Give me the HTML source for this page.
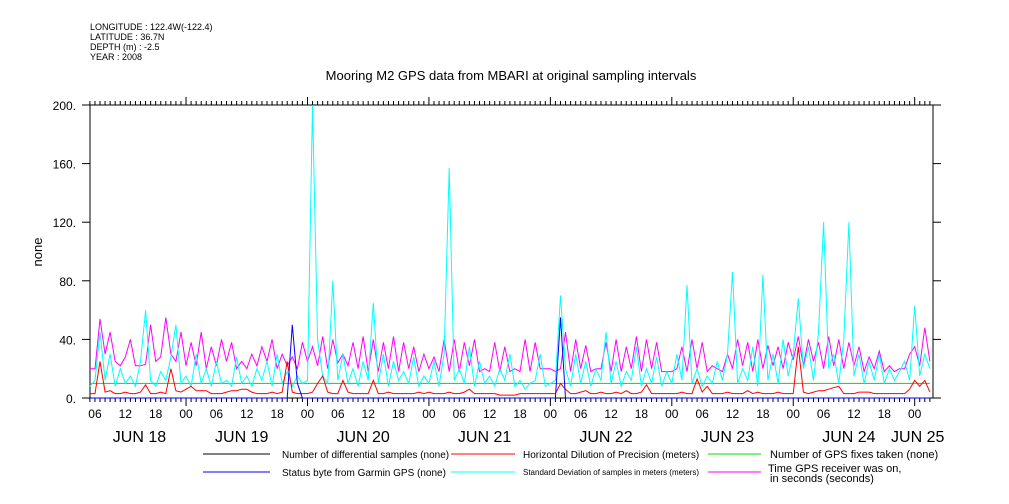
<!DOCTYPE html>
<html><head><meta charset="utf-8"><style>
body{margin:0;background:#fff}
svg{display:block;font-family:"Liberation Sans",sans-serif}
</style></head><body>
<svg id="chart" width="1009" height="504" viewBox="0 0 1009 504">
<g font-size="9" fill="#000">
<text x="90" y="30">LONGITUDE : 122.4W(-122.4)</text>
<text x="90" y="40">LATITUDE : 36.7N</text>
<text x="90" y="50">DEPTH (m) : -2.5</text>
<text x="90" y="60">YEAR : 2008</text>
</g>
<text x="511" y="80" text-anchor="middle" font-size="13">Mooring M2 GPS data from MBARI at original sampling intervals</text>
<text transform="translate(42,252) rotate(-90)" text-anchor="middle" font-size="13">none</text>
<g id="axes"></g>
<g id="series"></g>
<g font-size="10">
<line x1="203" y1="454" x2="270" y2="454" stroke="#000"/>
<text x="282" y="458">Number of differential samples (none)</text>
<line x1="451" y1="454" x2="515" y2="454" stroke="#f00"/>
<text x="523" y="458">Horizontal Dilution of Precision (meters)</text>
<line x1="708" y1="454" x2="761" y2="454" stroke="#0d0"/>
<text x="770" y="458" font-size="11">Number of GPS fixes taken (none)</text>
<line x1="203" y1="472" x2="270" y2="472" stroke="#00f"/>
<text x="282" y="476">Status byte from Garmin GPS (none)</text>
<line x1="451" y1="472" x2="515" y2="472" stroke="#0ff"/>
<text x="523" y="475" font-size="8">Standard Deviation of samples in meters (meters)</text>
<line x1="708" y1="472" x2="761" y2="472" stroke="#f0f"/>
<text x="768" y="472" font-size="11">Time GPS receiver was on,</text>
<text x="770" y="482" font-size="11">in seconds (seconds)</text>
</g>
</svg>
<script>
const startHour = 5;
const magenta = [20,20,54,30,45,25,22,28,40,22,22,23,50,25,28,55,30,25,45,
22,38,22,45,20,35,22,40,25,38,20,25,20,30,22,35,25,40,20,30,22,28,20,38,
25,35,22,42,20,40,24,30,22,38,20,42,18,40,18,38,20,42,18,38,20,35,18,30,
20,28,18,40,18,40,18,38,22,40,18,20,18,38,18,35,18,20,18,40,18,38,20,20,
20,18,20,45,18,40,20,36,18,20,20,38,18,40,18,35,20,42,18,40,20,38,18,18,
18,20,35,18,40,20,38,18,22,20,18,30,20,40,22,38,18,40,20,36,22,35,20,38,
26,42,22,40,25,38,20,42,22,40,20,38,22,35,18,28,20,32,18,22,18,20,20,30,35,22,48,25];
const cyan = [8,12,45,12,30,8,20,10,15,8,25,60,12,8,18,12,28,50,10,
15,8,30,10,20,8,25,10,12,8,28,10,15,8,20,12,25,8,30,10,18,8,15,10,
12,200,40,15,10,80,12,30,10,20,8,25,12,65,10,30,8,25,12,18,10,28,8,15,
10,25,8,30,157,12,20,10,35,8,25,10,15,8,20,12,30,8,12,6,10,12,30,8,
10,12,70,20,8,30,10,25,8,20,12,45,10,25,8,18,12,35,8,20,10,28,8,18,
10,30,12,77,10,20,8,15,10,25,12,30,86,10,20,12,35,8,84,12,30,10,40,15,
30,68,20,35,12,45,120,20,30,10,40,120,15,30,10,25,12,30,10,20,12,18,25,12,63,15,30,20];
const red = [3,3,25,4,5,3,3,4,3,3,4,9,3,3,4,3,20,5,4,
6,8,5,5,5,3,3,3,4,5,5,6,6,4,3,3,3,4,3,4,25,4,3,3,
3,4,10,15,4,3,3,12,4,3,3,3,3,12,3,3,4,3,3,3,3,3,4,3,
4,3,3,3,4,3,3,4,6,3,3,3,3,3,2,2,2,2,3,3,3,3,3,3,
3,3,10,6,3,3,4,5,3,3,4,3,3,4,3,5,3,3,4,9,3,3,3,3,
3,3,4,3,3,13,4,8,3,3,3,4,3,3,3,5,3,4,3,3,3,4,3,3,
3,35,4,3,4,5,5,6,7,8,3,3,3,4,4,4,3,3,3,3,3,3,3,6,12,8,12,4];
const green = new Array(167).fill(10);
const blue = [0,0,0,0,0,0,0,0,0,0,0,0,0,0,0,0,0,0,0,
0,0,0,0,0,0,0,0,0,0,0,0,0,0,0,0,0,0,0,0,0,50,10,0,
0,0,0,0,0,0,0,0,0,0,0,0,0,0,0,0,0,0,0,0,0,0,0,0,
0,0,0,0,0,0,0,0,0,0,0,0,0,0,0,0,0,0,0,0,0,0,0,0,
0,0,55,0,0,0,0,0,0,0,0,0,0,0,0,0,0,0,0,0,0,0,0,0,
0,0,0,0,0,0,0,0,0,0,0,0,0,0,0,0,0,0,0,0,0,0,0,0,
0,0,0,0,0,0,0,0,0,0,0,0,0,0,0,0,0,0,0,0,0,0,0,0,0,0,0,0];
const yTicks = [0,40,80,120,160,200];
const xTickHours = [6,12,18,24,30,36,42,48,54,60,66,72,78,84,90,96,102,108,114,120,126,132,138,144,150,156,162,168];
const dayLabels = ["JUN 18","JUN 19","JUN 20","JUN 21","JUN 22","JUN 23","JUN 24","JUN 25"];
const dayLabelHours = [14.8,35,59,83,107,131,155,168.6];

const NS="http://www.w3.org/2000/svg";
const L=90,R=933,T=105,B=398;
const hx=h=>64.6+h*5.06;
const vy=v=>B-(v-0)*(B-T)/200;
function mk(tag,attrs,parent){const e=document.createElementNS(NS,tag);for(const k in attrs)e.setAttribute(k,attrs[k]);parent.appendChild(e);return e;}
const axes=document.getElementById('axes');
const ser=document.getElementById('series');
let f=mk('rect',{x:L,y:T,width:R-L,height:B-T,fill:'none',stroke:'#000'},axes);


for(let h=5;h<=171;h++){
  const x=hx(h),maj=h%24===0;
  const t1=mk('line',{x1:x,y1:T,x2:x,y2:T-(maj?8:4),stroke:'#000'},axes);
  
  
  const t2=mk('line',{x1:x,y1:B,x2:x,y2:B+(maj?8:4),stroke:'#000'},axes);
  
  
}
yTicks.forEach(v=>{
  const y=vy(v);
  const a=mk('line',{x1:L-8,y1:y,x2:L,y2:y,stroke:'#000'},axes);
  
  
  const b=mk('line',{x1:R,y1:y,x2:R+8,y2:y,stroke:'#000'},axes);
  
  
  const t=mk('text',{x:L-14,y:y+5,'text-anchor':'end','font-size':12},axes);
  t.textContent=v+'.';
  
  
});
xTickHours.forEach(h=>{
  const t=mk('text',{x:hx(h),y:418,'text-anchor':'middle','font-size':12},axes);
  t.textContent=String(h%24).padStart(2,'0');
  
  
});
dayLabels.forEach((d,i)=>{
  const t=mk('text',{x:hx(dayLabelHours[i]),y:442,'text-anchor':'middle','font-size':16},axes);
  t.textContent=d;
  
  
});
function line(arr,color,name){
  const pts=arr.map((v,i)=>hx(startHour+i).toFixed(1)+','+vy(Math.min(v,200)).toFixed(1)).join(' ');
  const p=mk('polyline',{points:pts,fill:'none',stroke:color,'stroke-width':1},ser);
  
  
}
line(green,'#0d0','series-fixes');
line(magenta,'#f0f','series-time-on');
line(cyan,'#0ff','series-stddev');
line(red,'#f00','series-hdop');
line(blue,'#00f','series-status');
</script>
</body></html>
